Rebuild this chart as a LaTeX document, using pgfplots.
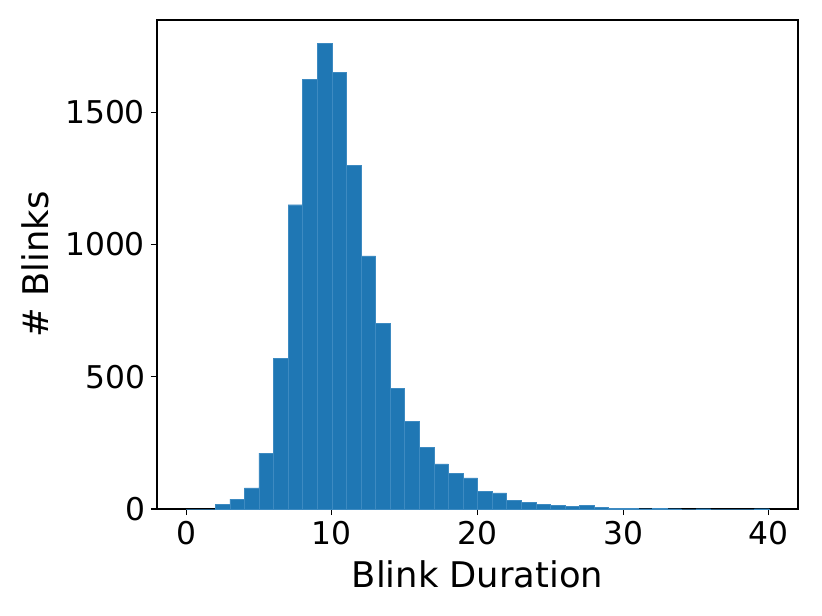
\documentclass[border=0pt]{standalone}
\usepackage{pgfplots}
\pgfplotsset{compat=1.18}
\usepackage{fontspec}
\setmainfont{DejaVu Sans}
\definecolor{c0}{HTML}{1F77B4}
\definecolor{c0e}{HTML}{3D8AC1}
\begin{document}
\begin{tikzpicture}
\begin{axis}[
  name=ax,
  scale only axis,
  width=480.75pt, height=366.75pt,
  xmin=-2, xmax=42, ymin=0, ymax=1848,
  xtick={0,10,20,30,40},
  ytick={0,500,1000,1500},
  tick align=outside,
  major tick length=4.5pt,
  tick style={black, line width=0.8pt},
  xtick pos=bottom, ytick pos=left,
  axis line style={black, line width=0.8pt},
  /pgf/number format/assume math mode=true,
  /pgf/number format/1000 sep={},
  ticklabel style={font=\fontsize{23.5}{27}\selectfont},
  xticklabel style={yshift=-1pt},
  yticklabel style={xshift=-1pt},
  label style={font=\fontsize{26.5}{31}\selectfont},
  xlabel={Blink Duration},
  ylabel={\# Blinks},
  xlabel style={yshift=-5pt},
  ylabel style={yshift=5pt},
]
\addplot[ybar interval, fill=c0, draw=c0e, line width=0.3pt] coordinates {
(0,0)(1,0)(2,18)(3,37)(4,80)(5,211)(6,570)(7,1150)(8,1624)(9,1760)
(10,1651)(11,1298)(12,957)(13,702)(14,457)(15,330)(16,234)(17,171)(18,135)(19,118)
(20,67)(21,61)(22,33)(23,24)(24,18)(25,14)(26,10)(27,14)(28,7)(29,3)
(30,2)(31,1)(32,2)(33,1)(34,0)(35,1)(36,0)(37,0)(38,0)(39,1)(40,1)
};
\end{axis}
\pgfresetboundingbox
\path ([xshift=-117.75pt,yshift=-79.5pt]ax.south west) rectangle ([xshift=18pt,yshift=15pt]ax.north east);
\end{tikzpicture}
\end{document}
